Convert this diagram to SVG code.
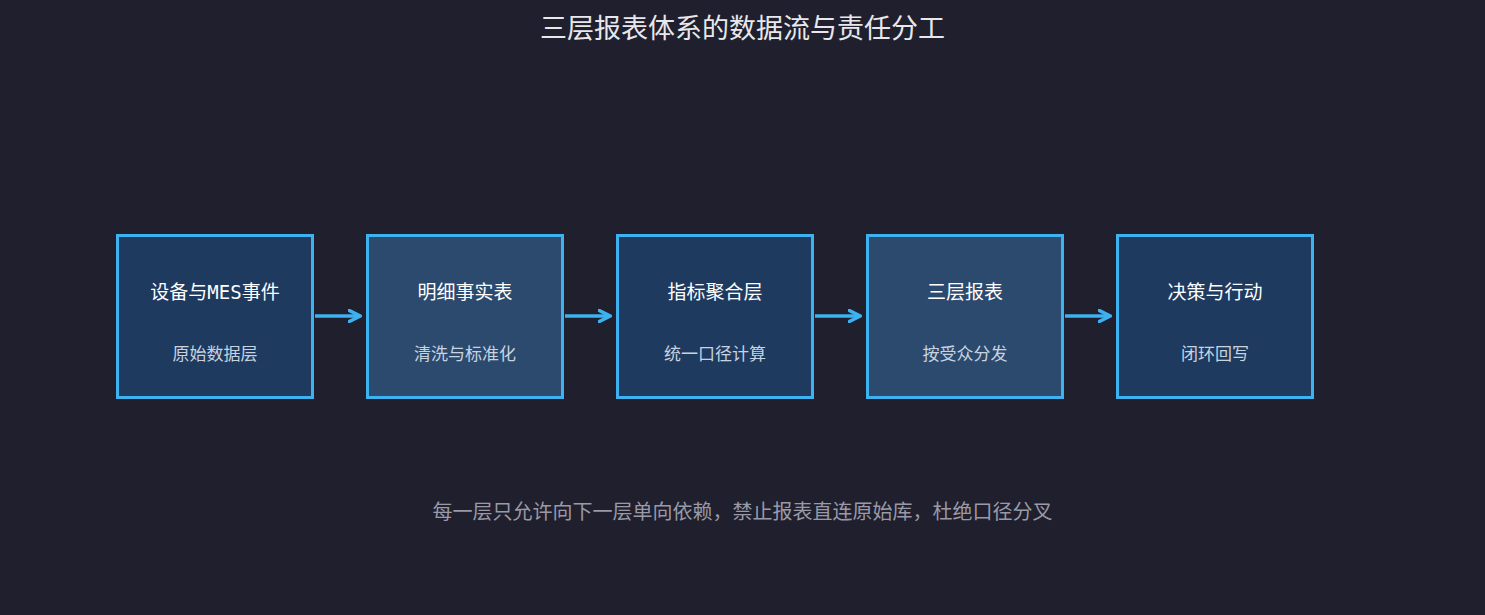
<svg xmlns="http://www.w3.org/2000/svg" width="1485" height="615" viewBox="0 0 1485 615">
<style>
text{font-family:"DejaVu Sans Mono","Noto Sans CJK SC",monospace;text-anchor:middle}
.box{stroke:#3eb2f0;stroke-width:3}
.a{fill:#1e3a5f}.b{fill:#2b4a6d}
.t{font-size:19px;fill:#ffffff}
.s{font-size:17px;fill:#c8d3e0}
.c{stroke:#3eb2f0;stroke-width:3.5;fill:none}
</style>
<defs>
<marker id="ah" viewBox="0 0 10 10" refX="8" refY="5" markerWidth="4" markerHeight="4" orient="auto" markerUnits="strokeWidth">
<path d="M1,1 L9,5 L1,9" fill="none" stroke="#3eb2f0" stroke-width="2.4" stroke-linecap="round" stroke-linejoin="round"/>
</marker>
</defs>
<rect width="1485" height="615" fill="#1f1f2e"/>
<text x="742.5" y="38" style="font-size:27px;fill:#e8e8ec">三层报表体系的数据流与责任分工</text>
<g id="n1"><rect class="box a" x="117.5" y="235.5" width="195" height="162"/><text class="t" x="215" y="299">设备与MES事件</text><text class="s" x="215" y="360">原始数据层</text></g>
<g id="n2"><rect class="box b" x="367.5" y="235.5" width="195" height="162"/><text class="t" x="465" y="299">明细事实表</text><text class="s" x="465" y="360">清洗与标准化</text></g>
<g id="n3"><rect class="box a" x="617.5" y="235.5" width="195" height="162"/><text class="t" x="715" y="299">指标聚合层</text><text class="s" x="715" y="360">统一口径计算</text></g>
<g id="n4"><rect class="box b" x="867.5" y="235.5" width="195" height="162"/><text class="t" x="965" y="299">三层报表</text><text class="s" x="965" y="360">按受众分发</text></g>
<g id="n5"><rect class="box a" x="1117.5" y="235.5" width="195" height="162"/><text class="t" x="1215" y="299">决策与行动</text><text class="s" x="1215" y="360">闭环回写</text></g>
<g id="connectors">
<line class="c" x1="315" y1="316" x2="359" y2="316" marker-end="url(#ah)"/>
<line class="c" x1="565" y1="316" x2="609" y2="316" marker-end="url(#ah)"/>
<line class="c" x1="815" y1="316" x2="859" y2="316" marker-end="url(#ah)"/>
<line class="c" x1="1065" y1="316" x2="1109" y2="316" marker-end="url(#ah)"/>
</g>
<text x="742.5" y="519" style="font-size:20px;fill:#9a9aa6">每一层只允许向下一层单向依赖，禁止报表直连原始库，杜绝口径分叉</text>
</svg>
